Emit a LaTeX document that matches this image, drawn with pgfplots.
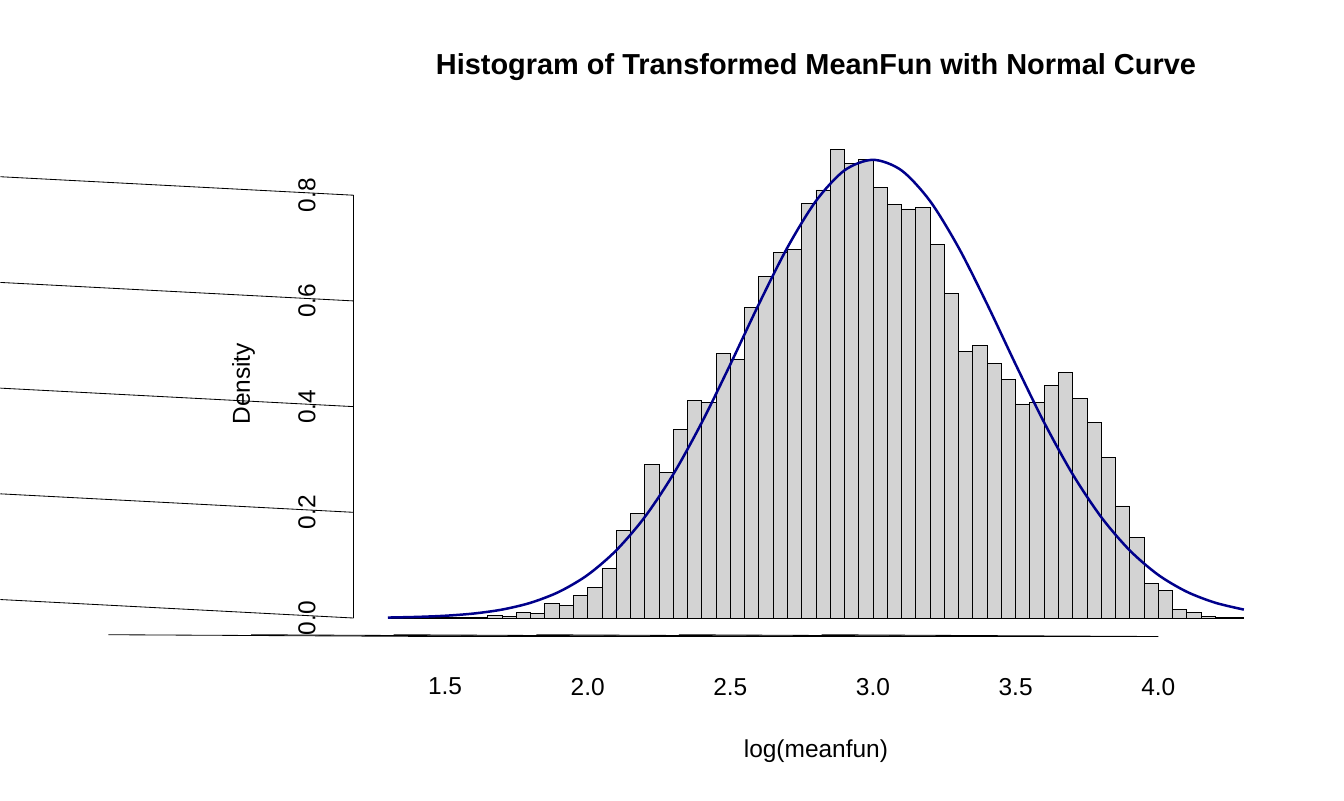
\documentclass[border=0pt]{standalone}
\usepackage{pgfplots}
\pgfplotsset{compat=1.18}
\usepackage{fontspec}
\setmainfont{Liberation Sans}
\definecolor{barfill}{RGB}{211,211,211}
\definecolor{curve}{RGB}{0,0,139}
\begin{document}
\begin{tikzpicture}
\begin{axis}[
  at={(0,0)}, anchor=south west,
  scale only axis, width=831pt, height=453.75pt,
  xmin=1.18, xmax=4.42, ymin=-0.035, ymax=0.92,
  axis lines=none, clip=false,
]
\addplot[ybar interval, fill=barfill, draw=black, line width=0.75pt] coordinates {
(1.30,0.0005)(1.35,0.0005)(1.40,0.0005)(1.45,0.0005)(1.50,0.001)(1.55,0.001)(1.60,0.002)
(1.65,0.005)(1.70,0.003)(1.75,0.010)(1.80,0.008)(1.85,0.027)(1.90,0.023)(1.95,0.042)
(2.00,0.058)(2.05,0.093)(2.10,0.165)(2.15,0.198)(2.20,0.290)(2.25,0.276)(2.30,0.356)
(2.35,0.412)(2.40,0.408)(2.45,0.500)(2.50,0.490)(2.55,0.587)(2.60,0.647)(2.65,0.692)
(2.70,0.698)(2.75,0.784)(2.80,0.810)(2.85,0.886)(2.90,0.860)(2.95,0.868)(3.00,0.814)
(3.05,0.783)(3.10,0.774)(3.15,0.776)(3.20,0.706)(3.25,0.615)(3.30,0.505)(3.35,0.515)
(3.40,0.482)(3.45,0.452)(3.50,0.405)(3.55,0.408)(3.60,0.440)(3.65,0.464)(3.70,0.416)
(3.75,0.370)(3.80,0.303)(3.85,0.212)(3.90,0.153)(3.95,0.065)(4.00,0.053)(4.05,0.016)
(4.10,0.010)(4.15,0.003)(4.20,0.001)(4.25,0.001)(4.30,0)
};
\addplot[curve, line width=2.25pt, smooth, no marks] coordinates {
(1.3,0.0009)(1.4,0.0021)(1.5,0.0043)(1.6,0.0085)(1.7,0.016)(1.8,0.0289)(1.9,0.0497)
(2.0,0.0816)(2.1,0.128)(2.2,0.191)(2.3,0.272)(2.4,0.370)(2.5,0.480)(2.6,0.594)
(2.7,0.701)(2.8,0.789)(2.9,0.847)(3.0,0.867)(3.1,0.847)(3.2,0.789)(3.3,0.701)
(3.4,0.594)(3.5,0.480)(3.6,0.370)(3.7,0.272)(3.8,0.191)(3.9,0.128)(4.0,0.0816)
(4.1,0.0497)(4.2,0.0289)(4.3,0.016)
};
\draw[line width=0.75pt] (axis cs:1.5,-0.035) -- (axis cs:4.0,-0.035);
\pgfplotsinvokeforeach{1.5,2.0,2.5,3.0,3.5,4.0}{
  \draw[line width=0.75pt] (axis cs:#1,-0.035) -- ++(0,-15pt);
  \node[font=\fontsize{22}{26}\selectfont, anchor=center] at ([yshift=-45pt]axis cs:#1,-0.035) {#1};
}
\draw[line width=0.75pt] (axis cs:1.18,0) -- (axis cs:1.18,0.8);
\pgfplotsinvokeforeach{0.0,0.2,0.4,0.6,0.8}{
  \draw[line width=0.75pt] (axis cs:1.18,#1) -- ++(-15pt,0);
  \node[font=\fontsize{22}{26}\selectfont, rotate=90, anchor=center] at ([xshift=-42pt]axis cs:1.18,#1) {#1};
}
\end{axis}
\node[font=\fontsize{26}{30}\selectfont\bfseries] at (415.5pt,512.25pt) {Histogram of Transformed MeanFun with Normal Curve};
\node[font=\fontsize{22}{26}\selectfont] at (415.5pt,-102.75pt) {log(meanfun)};
\node[font=\fontsize{22}{26}\selectfont, rotate=90] at (-99pt,227.25pt) {Density};
\path[use as bounding box] (-117.75pt,-147.75pt) rectangle (890.25pt,572.25pt);
\end{tikzpicture}
\end{document}
